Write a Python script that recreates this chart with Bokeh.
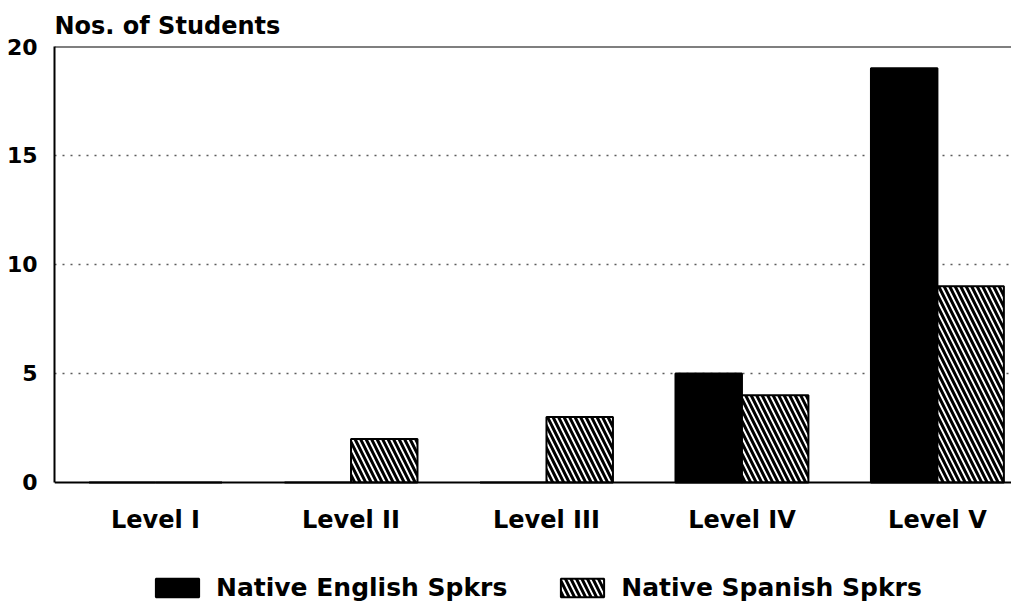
from bokeh.plotting import figure
from bokeh.models import ColumnDataSource, Range1d, FixedTicker, Span, Legend, LegendItem, LinearAxis
from bokeh.transform import dodge
from bokeh.embed import file_html
from bokeh.resources import INLINE

levels = ["Level I", "Level II", "Level III", "Level IV", "Level V"]
english = [0, 0, 0, 5, 19]
spanish = [0, 2, 3, 4, 9]
series_names = ["Native English Spkrs", "Native Spanish Spkrs"]
y_ticks = [0, 5, 10, 15, 20]

FONT = "DejaVu Sans"

src = ColumnDataSource(dict(x=list(range(len(levels))), english=english, spanish=spanish))

p = figure(width=1011, height=607, output_backend="svg", toolbar_location=None,
           x_range=Range1d(-0.517, 4.379), y_range=Range1d(-5.734, 20),
           x_axis_type=None,
           min_border_left=54, min_border_right=0, min_border_top=46, min_border_bottom=0)
p.outline_line_color = None
p.background_fill_color = "white"

p.title.text = "Nos. of Students"
p.title.text_font = FONT
p.title.text_font_style = "bold"
p.title.text_font_size = "24px"
p.title.text_color = "black"
p.title.align = "left"
p.title.standoff = 14
p.title.offset = 0

# grid
p.xgrid.grid_line_color = None
p.ygrid.ticker = FixedTicker(ticks=[5, 10, 15])
p.ygrid.grid_line_color = "#333333"
p.ygrid.grid_line_dash = "2 6"
p.ygrid.grid_line_width = 1.5
p.ygrid.grid_line_alpha = 0.8

# y axis
p.yaxis.ticker = FixedTicker(ticks=y_ticks)
p.yaxis.bounds = (0, 20)
p.yaxis.major_tick_line_color = None
p.yaxis.minor_tick_line_color = None
p.yaxis.axis_line_width = 2
p.yaxis.axis_line_color = "black"
p.yaxis.major_label_text_font = FONT
p.yaxis.major_label_text_font_style = "bold"
p.yaxis.major_label_text_font_size = "22px"
p.yaxis.major_label_text_color = "black"
p.yaxis.major_label_standoff = 11

# x axis placed at y = 0
xaxis = LinearAxis(fixed_location=0)
xaxis.ticker = FixedTicker(ticks=list(range(len(levels))))
xaxis.major_label_overrides = {i: lv for i, lv in enumerate(levels)}
xaxis.major_tick_line_color = None
xaxis.minor_tick_line_color = None
xaxis.axis_line_width = 2
xaxis.axis_line_color = "black"
xaxis.major_label_text_font = FONT
xaxis.major_label_text_font_style = "bold"
xaxis.major_label_text_font_size = "24px"
xaxis.major_label_text_color = "black"
xaxis.major_label_standoff = 18
p.add_layout(xaxis, "below")

p.add_layout(Span(location=20, dimension="width", line_color="black", line_width=2))

r_en = p.vbar(x=dodge("x", -0.17, range=p.x_range), top="english", width=0.34, source=src,
              fill_color="black", line_color="black", line_width=2)
r_es = p.vbar(x=dodge("x", 0.17, range=p.x_range), top="spanish", width=0.34, source=src,
              fill_color="white", line_color="black", line_width=2,
              hatch_pattern="\\", hatch_color="black", hatch_weight=3, hatch_scale=11)

legend = Legend(items=[LegendItem(label=series_names[0], renderers=[r_en]),
                       LegendItem(label=series_names[1], renderers=[r_es])],
                orientation="horizontal", location=(96, 5))
legend.glyph_width = 54
legend.glyph_height = 23
legend.label_standoff = 12
legend.spacing = 48
legend.padding = 0
legend.margin = 0
legend.border_line_color = None
legend.background_fill_alpha = 0
legend.label_text_font = FONT
legend.label_text_font_style = "bold"
legend.label_text_font_size = "25px"
legend.label_text_color = "black"
legend.label_height = 28
p.add_layout(legend, "center")

open("out.html", "w").write(file_html(p, INLINE))
